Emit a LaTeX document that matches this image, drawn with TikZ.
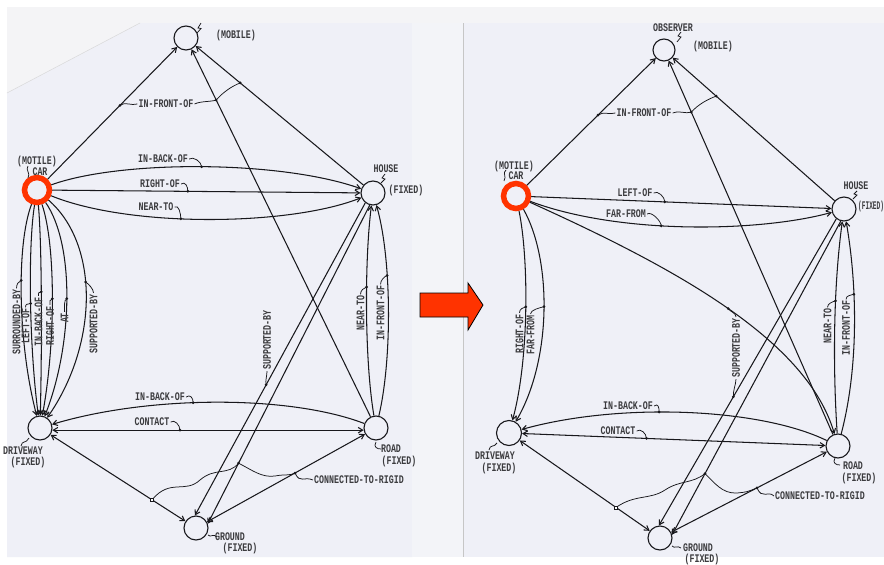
\documentclass[tikz,border=0pt]{standalone}
\usepackage{fontspec}
\usepackage{graphicx}
\usetikzlibrary{arrows.meta,calc}
\newfontfamily\twfont{Liberation Mono}
\newcommand{\tws}[1]{\scalebox{1}[1.4]{#1}}
\definecolor{inkc}{HTML}{18181C}
\definecolor{redring}{HTML}{FF3300}
\definecolor{scanbg}{HTML}{F4F4F6}
\definecolor{sheetc}{HTML}{EFF0F7}
\definecolor{stripc}{HTML}{F3F4F8}
\tikzset{
  ent/.style={circle,draw=inkc,line width=1.1pt,minimum size=24pt,inner sep=0pt},
  carnode/.style={circle,draw=redring,line width=5.5pt,minimum size=25pt,inner sep=0pt},
  conn/.style={draw=inkc,line width=1.05pt},
  arr/.style={conn,-{Straight Barb[length=4.5pt,width=5.5pt]}},
  barr/.style={conn,{Straight Barb[length=4.5pt,width=5.5pt]}-{Straight Barb[length=4.5pt,width=5.5pt]}},
  lab/.style={font=\twfont\bfseries\fontsize{8.3}{9}\selectfont,inner sep=1pt,text=inkc!85},
  vlab/.style={lab,rotate=90},
  dotn/.style={circle,fill=inkc,inner sep=0pt,minimum size=3pt},
  sqd/.style={rectangle,draw=inkc,fill=white,inner sep=0pt,minimum size=3.2pt,line width=0.6pt},
  hk/.style={draw=inkc,line width=0.75pt},
  squig/.style={draw=inkc,line width=0.75pt},
}
\begin{document}
\begin{tikzpicture}[x=1pt,y=-1pt]
\useasboundingbox (0,0) rectangle (884,565);
% ---------- background ----------
\fill[white] (0,0) rectangle (884,565);
\fill[scanbg] (7,7) rectangle (884,557);
\fill[sheetc] (7,93) -- (140,23) -- (412,23) -- (412,557) -- (7,557) -- cycle;
\fill[stripc] (412,23) rectangle (463,557);
\fill[sheetc] (463,23) rectangle (884,557);
\draw[gray!45,line width=0.5pt] (463,23) -- (463,557);
\draw[gray!30,line width=0.5pt] (7,93) -- (140,23);

% ================= LEFT PANEL =================
\node[ent] (lobs) at (186,38) {};
\node[carnode] (lcar) at (37,190) {};
\node[ent] (lhouse) at (373,193) {};
\node[ent] (ldrv) at (40,428) {};
\node[ent] (lroad) at (376,428) {};
\node[ent] (lgnd) at (196,528) {};

\node[lab] (lmob) at (236,35) {\tws{(MOBILE)}};
\node[lab] (lmot) at (37,161) {\tws{(MOTILE)}};
\node[lab] (lcarl) at (40,172) {\tws{CAR}};
\node[lab] (lhousel) at (386,169) {\tws{HOUSE}};
\node[lab] (lhousef) at (406,190) {\tws{(FIXED)}};
\node[lab] (ldrvl) at (23,451) {\tws{DRIVEWAY}};
\node[lab] (ldrvf) at (28,462) {\tws{(FIXED)}};
\node[lab] (lroadl) at (391,449) {\tws{ROAD}};
\node[lab] (lroadf) at (399,461) {\tws{(FIXED)}};
\node[lab] (lgndl) at (230,537) {\tws{GROUND}};
\node[lab] (lgndf) at (240,548) {\tws{(FIXED)}};

\draw[squig] (201,23) -- (198,28) -- (201,28.5) -- (197,33);
\draw[squig] (28,166) .. controls (25,170) and (31,173) .. (28,178);
\draw[squig] (385,174) -- (382,178) -- (385,179) -- (381,183);
\draw[squig] (21,446) .. controls (22,440) and (26,444) .. (29,438);
\draw[squig] (376,442) .. controls (373,447) and (377,449) .. (381,449);
\draw[squig] (208,535) .. controls (211,538) and (213,533) .. (217,537);

% observer edges
\draw[arr] (lcar) -- (lobs);
\draw[arr] (lroad) -- (lobs);
\draw[arr] (lhouse) -- (lobs);
\coordinate (lifoA) at ($(lcar)!0.557!(lobs)$);
\coordinate (lifoB) at ($(lroad)!0.841!(lobs)$);
\coordinate (lifoC) at ($(lhouse)!0.71!(lobs)$);
\node[lab] (lifol) at (166,104) {\tws{IN-FRONT-OF}};
\draw[hk] (lifoA) .. controls +(5,-4) and +(-6,2) .. (lifol.west);
\draw[hk] (lifol.east) .. controls +(6,-3) and +(-6,2) .. (lifoB);
\draw[hk] (lifoB) .. controls +(7,-8) and +(-8,3) .. (lifoC);
\node[dotn] (lifoAd) at (lifoA) {};
\node[dotn] (lifoBd) at (lifoB) {};
\node[dotn] (lifoCd) at (lifoC) {};

% car -> house
\draw[arr] (lcar) .. controls (120,160) and (280,160) .. (lhouse) coordinate[pos=0.5] (libo);
\node[lab] (libol) at (163,159) {\tws{IN-BACK-OF}};
\draw[hk] (libol.east) .. controls +(4,-3) and +(0,-5) .. (libo);
\node[dotn] (libod) at (libo) {};
\draw[arr] (lcar) -- (lhouse) coordinate[pos=0.44] (lro);
\node[lab] (lrol) at (160,184) {\tws{RIGHT-OF}};
\draw[hk] (lrol.east) .. controls +(4,-3) and +(0,-5) .. (lro);
\node[dotn] (lrod) at (lro) {};
\draw[arr] (lcar) .. controls (130,228) and (290,226) .. (lhouse) coordinate[pos=0.42] (lnt);
\node[lab] (lntl) at (156,207) {\tws{NEAR-TO}};
\draw[hk] (lntl.east) .. controls +(4,-3) and +(0,-5) .. (lnt);
\node[dotn] (lntd) at (lnt) {};

% car -> driveway fan
\draw[arr] (lcar) .. controls (16,245) and (18,345) .. (ldrv) coordinate[pos=0.42] (lsb);
\draw[arr] (lcar) .. controls (28,245) and (29,345) .. (ldrv) coordinate[pos=0.52] (llo);
\draw[arr] (lcar) .. controls (42,245) and (42,345) .. (ldrv) coordinate[pos=0.47] (libo2);
\draw[arr] (lcar) .. controls (56,245) and (55.5,345) .. (ldrv) coordinate[pos=0.5] (lro2);
\draw[arr] (lcar) .. controls (75,245) and (73,345) .. (ldrv) coordinate[pos=0.5] (lat);
\draw[arr] (lcar) .. controls (100,245) and (98,345) .. (ldrv) coordinate[pos=0.43] (lsup);
\node[vlab] (lsbl) at (16.5,322) {\tws{SURROUNDED-BY}};
\node[vlab] (llol) at (25.5,326) {\tws{LEFT-OF}};
\node[vlab] (libo2l) at (38.5,322) {\tws{IN-BACK-OF}};
\node[vlab] (lro2l) at (50,326) {\tws{RIGHT-OF}};
\node[vlab] (latl) at (64.5,318) {\tws{AT}};
\node[vlab] (lsupl) at (93.5,324) {\tws{SUPPORTED-BY}};
\draw[hk] (lsbl.east) .. controls +(0,-4) and +(-3,1) .. (lsb);
\draw[hk] (llol.east) .. controls +(0,-4) and +(-3,1) .. (llo);
\draw[hk] (libo2l.east) .. controls +(0,-4) and +(-3,1) .. (libo2);
\draw[hk] (lro2l.east) .. controls +(0,-4) and +(-3,1) .. (lro2);
\draw[hk] (latl.east) .. controls +(0,-4) and +(-3,1) .. (lat);
\draw[hk] (lsupl.east) .. controls +(0,-4) and +(3,2) .. (lsup);
\node[dotn] (lsbd) at (lsb) {};
\node[dotn] (llod) at (llo) {};
\node[dotn] (libo2d) at (libo2) {};
\node[dotn] (lro2d) at (lro2) {};
\node[dotn] (latd) at (lat) {};
\node[dotn] (lsupd) at (lsup) {};

% driveway <-> road
\draw[arr] (lroad) .. controls (290,395) and (150,395) .. (ldrv) coordinate[pos=0.57] (ldibo);
\node[lab] (ldibol) at (160,397) {\tws{IN-BACK-OF}};
\draw[hk] (ldibol.east) .. controls +(4,-3) and +(0,-5) .. (ldibo);
\node[dotn] (ldibod) at (ldibo) {};
\draw[barr] (ldrv.350) -- (lroad.190) coordinate[pos=0.41] (ldct);
\node[lab] (ldctl) at (152,422) {\tws{CONTACT}};
\draw[hk] (ldctl.east) .. controls +(4,-3) and +(0,-5) .. (ldct);
\node[dotn] (ldctd) at (ldct) {};

% house <-> road
\draw[arr] (lroad) .. controls (364.5,360) and (364.5,260) .. (lhouse) coordinate[pos=0.6] (lnt2);
\draw[arr] (lroad) .. controls (392,360) and (392,260) .. (lhouse) coordinate[pos=0.65] (lif2);
\node[vlab] (lnt2l) at (360.5,313) {\tws{NEAR-TO}};
\node[vlab] (lif2l) at (380.5,313) {\tws{IN-FRONT-OF}};
\draw[hk] (lnt2l.east) .. controls +(0,-4) and +(-3,1) .. (lnt2);
\draw[hk] (lif2l.east) .. controls +(0,-4) and +(-3,1) .. (lif2);
\node[dotn] (lnt2d) at (lnt2) {};
\node[dotn] (lif2d) at (lif2) {};

% ground
\draw[barr] (ldrv) -- (lgnd);
\draw[barr] (lroad) -- (lgnd);
\draw[arr] (lhouse.232) -- (lgnd.95);
\draw[arr] (lhouse.255) -- (lgnd.20);
\coordinate (lsupB) at ($(lhouse.232)!0.582!(lgnd.95)$);
\node[vlab] (lsupBl) at (267,340) {\tws{SUPPORTED-BY}};
\draw[hk] (lsupBl.west) .. controls +(0,5) and +(-1,-4) .. (lsupB);
\node[dotn] (lsupBd) at (lsupB) {};
\coordinate (lcrA) at ($(ldrv)!0.718!(lgnd)$);
\coordinate (lcrB) at ($(lhouse.255)!0.81!(lgnd.20)$);
\coordinate (lcrC) at ($(lroad)!0.45!(lgnd)$);
\node[lab] (lcrl) at (359,480) {\tws{CONNECTED-TO-RIGID}};
\draw[hk] (lcrA) .. controls (170,478) and (185,494) .. (200,480) .. controls (215,467) and (228,476) .. (lcrB);
\draw[hk] (lcrB) .. controls (252,470) and (262,478) .. (275,476) .. controls (285,474) and (290,476) .. (lcrC);
\draw[hk] (lcrC) .. controls (300,484) and (304,476) .. (lcrl.west);
\node[sqd] (lcrAd) at (lcrA) {};
\node[dotn] (lcrBd) at (lcrB) {};
\node[dotn] (lcrCd) at (lcrC) {};

% ================= ARROW =================
\draw[fill=redring,draw=black,line width=0.8pt,line join=miter]
  (420,293) -- (468,293) -- (468,283) -- (483,305) -- (468,330) -- (468,317) -- (420,317) -- cycle;

% ================= RIGHT PANEL =================
\node[ent,minimum size=22pt] (robs) at (664,50) {};
\node[carnode] (rcar) at (516,196) {};
\node[ent] (rhouse) at (844,209) {};
\node[ent,minimum size=25pt] (rdrv) at (509,433) {};
\node[ent] (rroad) at (838,446) {};
\node[ent] (rgnd) at (660,538) {};

\node[lab] (robsl) at (673,28) {\tws{OBSERVER}};
\node[lab] (rmob) at (713,46) {\tws{(MOBILE)}};
\node[lab] (rmot) at (514,166) {\tws{(MOTILE)}};
\node[lab] (rcarl) at (516,176) {\tws{CAR}};
\node[lab] (rhousel) at (856,186) {\tws{HOUSE}};
\node[lab,anchor=west] (rhousef) at (857,206) {\scalebox{0.74}[1.4]{(FIXED)}};
\node[lab] (rdrvl) at (495,456) {\tws{DRIVEWAY}};
\node[lab] (rdrvf) at (499,468) {\tws{(FIXED)}};
\node[lab] (rroadl) at (853,466) {\tws{ROAD}};
\node[lab] (rroadf) at (859,478) {\tws{(FIXED)}};
\node[lab] (rgndl) at (698,548) {\tws{GROUND}};
\node[lab] (rgndf) at (702,559) {\tws{(FIXED)}};

\draw[squig] (681,32) -- (678,36) -- (681,37) -- (677,42);
\draw[squig] (506,170) .. controls (502,173) and (507,176) .. (504,181);
\draw[squig] (857,191) -- (854,194) -- (857,195) -- (853,199);
\draw[squig] (489,450) .. controls (490,444) and (494,448) .. (497,443);
\draw[squig] (835,458) .. controls (832,463) and (836,465) .. (840,465);
\draw[squig] (672,546) .. controls (675,549) and (677,545) .. (681,548);

% observer edges
\draw[arr] (rcar) -- (robs);
\draw[arr] (rroad) -- (robs);
\draw[arr] (rhouse) -- (robs);
\coordinate (rifoA) at ($(rcar)!0.554!(robs)$);
\coordinate (rifoB) at ($(rroad)!0.843!(robs)$);
\coordinate (rifoC) at ($(rhouse)!0.71!(robs)$);
\node[lab] (rifol) at (644,113) {\tws{IN-FRONT-OF}};
\draw[hk] (rifoA) .. controls +(5,-4) and +(-6,2) .. (rifol.west);
\draw[hk] (rifol.east) .. controls +(6,-3) and +(-6,2) .. (rifoB);
\draw[hk] (rifoB) .. controls +(7,-8) and +(-8,3) .. (rifoC);
\node[dotn] (rifoAd) at (rifoA) {};
\node[dotn] (rifoBd) at (rifoB) {};
\node[dotn] (rifoCd) at (rifoC) {};

% car -> house
\draw[arr] (rcar) -- (rhouse) coordinate[pos=0.445] (rlo);
\node[lab] (rlol) at (635,193) {\tws{LEFT-OF}};
\draw[hk] (rlol.east) .. controls +(4,-3) and +(0,-5) .. (rlo);
\node[dotn] (rlod) at (rlo) {};
\draw[arr] (rcar) .. controls (620,235) and (760,232) .. (rhouse) coordinate[pos=0.42] (rff);
\node[lab] (rffl) at (626,214) {\tws{FAR-FROM}};
\draw[hk] (rffl.east) .. controls +(4,-3) and +(0,-5) .. (rff);
\node[dotn] (rffd) at (rff) {};

% car -> driveway
\draw[arr] (rcar) .. controls (529,260) and (529,360) .. (rdrv) coordinate[pos=0.48] (rro);
\draw[arr] (rcar) .. controls (552,260) and (552,360) .. (rdrv) coordinate[pos=0.48] (rff2);
\node[vlab] (rrol) at (519.5,334) {\tws{RIGHT-OF}};
\node[vlab] (rff2l) at (530.5,335) {\tws{FAR-FROM}};
\draw[hk] (rrol.east) .. controls +(0,-4) and +(-3,1) .. (rro);
\draw[hk] (rff2l.east) .. controls +(0,-4) and +(-4,1) .. (rff2);
\node[dotn] (rrod) at (rro) {};
\node[dotn] (rff2d) at (rff2) {};

% car -> road (supported-by)
\draw[arr] (rcar) .. controls (680,270) and (807,341) .. (rroad) coordinate[pos=0.5] (rsupA);
\coordinate (rsupB) at ($(rhouse.232)!0.58!(rgnd.95)$);
\node[vlab] (rsupl) at (736,348) {\tws{SUPPORTED-BY}};
\draw[hk] (rsupl.east) .. controls +(0,-4) and +(2,3) .. (rsupA);
\draw[hk] (rsupl.west) .. controls +(0,5) and +(-1,-4) .. (rsupB);
\node[dotn] (rsupAd) at (rsupA) {};
\node[dotn] (rsupBd) at (rsupB) {};

% driveway <-> road
\draw[arr] (rroad) .. controls (760,408) and (620,402) .. (rdrv) coordinate[pos=0.58] (ribo);
\node[lab] (ribol) at (628,406) {\tws{IN-BACK-OF}};
\draw[hk] (ribol.east) .. controls +(4,-3) and +(0,-5) .. (ribo);
\node[dotn] (ribod) at (ribo) {};
\draw[barr] (rdrv) -- (rroad) coordinate[pos=0.41] (rct);
\node[lab] (rctl) at (618,431) {\tws{CONTACT}};
\draw[hk] (rctl.east) .. controls +(4,-3) and +(0,-5) .. (rct);
\node[dotn] (rctd) at (rct) {};

% house <-> road
\draw[arr] (rroad) .. controls (833,370) and (833,290) .. (rhouse) coordinate[pos=0.63] (rnt);
\draw[arr] (rroad) .. controls (858,370) and (858,290) .. (rhouse) coordinate[pos=0.66] (rif);
\node[vlab] (rntl) at (827.5,326) {\tws{NEAR-TO}};
\node[vlab] (rifl) at (846,328) {\tws{IN-FRONT-OF}};
\draw[hk] (rntl.east) .. controls +(0,-4) and +(-3,1) .. (rnt);
\draw[hk] (rifl.east) .. controls +(0,-4) and +(-3,1) .. (rif);
\node[dotn] (rntd) at (rnt) {};
\node[dotn] (rifd) at (rif) {};

% ground
\draw[barr] (rdrv) -- (rgnd);
\draw[barr] (rroad) -- (rgnd);
\draw[arr] (rhouse.232) -- (rgnd.95);
\draw[arr] (rhouse.255) -- (rgnd.15);
\coordinate (rcrA) at ($(rdrv)!0.709!(rgnd)$);
\coordinate (rcrB) at ($(rhouse.255)!0.805!(rgnd.15)$);
\coordinate (rcrC) at ($(rroad)!0.455!(rgnd)$);
\node[lab] (rcrl) at (820,496) {\tws{CONNECTED-TO-RIGID}};
\draw[hk] (rcrA) .. controls (635,494) and (650,500) .. (665,490) .. controls (680,480) and (692,484) .. (rcrB);
\draw[hk] (rcrB) .. controls (714,482) and (722,494) .. (737,493) .. controls (747,492) .. (rcrC);
\draw[hk] (rcrC) .. controls (762,500) and (768,490) .. (rcrl.west);
\node[sqd] (rcrAd) at (rcrA) {};
\node[dotn] (rcrBd) at (rcrB) {};
\node[dotn] (rcrCd) at (rcrC) {};
\end{tikzpicture}
\end{document}
